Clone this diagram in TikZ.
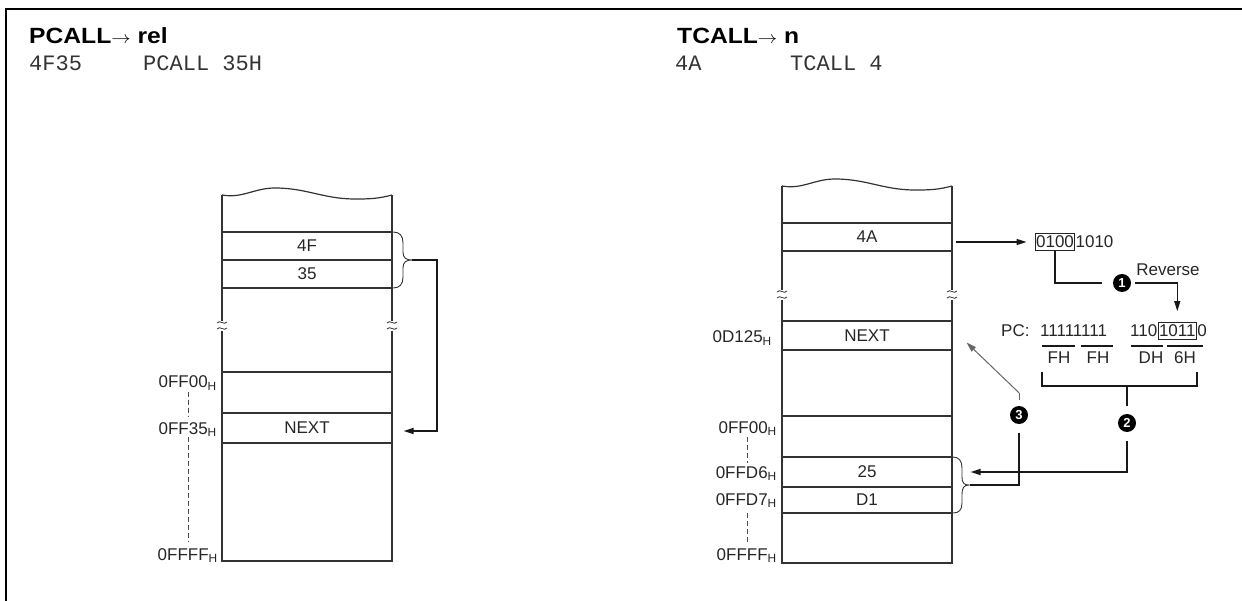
\documentclass[tikz,border=0pt]{standalone}
\usepackage{fontspec}
\setmainfont{Liberation Sans}
\newfontfamily\monof{Liberation Mono}
\usetikzlibrary{arrows.meta,calc}
\newcommand{\ttlarrow}{{\fontsize{18}{18}\selectfont$\rightarrow$}}
\begin{document}
\begin{tikzpicture}[x=1pt,y=-1pt,
  frame/.style={line width=2pt, draw=black},
  colline/.style={line width=1.2pt, draw=black!80},
  cell/.style={draw=black!80, line width=1.1pt, minimum width=170pt, inner sep=0pt, font=\fontsize{17}{20}\selectfont, text=black!85},
  lbl/.style={font=\fontsize{17}{20}\selectfont, inner sep=0pt, text=black!85},
  addr/.style={lbl, anchor=base east},
  boxed/.style={lbl, draw=black!85, line width=1pt, inner xsep=1pt, inner ysep=2.5pt},
  num/.style={circle, fill=black, text=white, inner sep=0pt, minimum size=18pt, font=\bfseries\fontsize{13}{13}\selectfont},
  conn/.style={line width=1.3pt, draw=black!90},
  arr/.style={conn, -{Triangle[length=10pt,width=6pt]}},
  diag/.style={line width=1pt, draw=black!60, -{Triangle[length=10pt,width=6pt]}},
  dashv/.style={line width=1pt, draw=black!70, dash pattern=on 5pt off 3pt},
  brk/.style={line width=0.8pt, draw=black!80},
  brace/.style={line width=0.9pt, draw=black!80},
  title/.style={font=\bfseries\fontsize{22}{26}\selectfont, anchor=base west, inner sep=0pt},
  code/.style={font=\monof\fontsize{22}{24}\selectfont, anchor=base west, inner sep=0pt, text=black!80},
]
\useasboundingbox (0,0) rectangle (1242,601);
\draw[frame] (1243,9.3) -- (6,9.3) -- (6,602);

% ---------- titles ----------
\node[title] (t1) at (29,44) {\scalebox{1.12}[1]{PCALL\ttlarrow{} rel}};
\node[code] (c1a) at (29,71) {4F35};
\node[code] (c1b) at (143,71) {PCALL 35H};
\node[title] (t2) at (677,44) {\scalebox{1.12}[1]{TCALL\ttlarrow{} n}};
\node[code] (c2a) at (675,71) {4A};
\node[code] (c2b) at (790,71) {TCALL 4};

% ---------- left memory column ----------
\draw[colline] (222,195) -- (222,321);
\draw[colline] (222,331) -- (222,561) -- (392,561) -- (392,331);
\draw[colline] (392,321) -- (392,195);
\draw[colline] (222,195) to[out=-10,in=180] (275,188) to[out=0,in=180] (355,199) to[out=0,in=195] (392,195);
\foreach \xx in {222,392}{
  \draw[brk] (\xx-5,323) .. controls (\xx-2,319) and (\xx+2,326) .. (\xx+5,322);
  \draw[brk] (\xx-5,329) .. controls (\xx-2,325) and (\xx+2,332) .. (\xx+5,328);
}
\node[cell, minimum height=28pt] (l4F) at (307,246) {4F};
\node[cell, minimum height=28pt] (l35) at (307,274) {35};
\node[cell, minimum height=41pt] (lFF00) at (307,392.5) {};
\node[cell, minimum height=30pt] (lNEXT) at (307,428) {NEXT};

\node[addr] (aL1) at (217,388) {0FF00\textsubscript{H}};
\node[addr] (aL2) at (217,434) {0FF35\textsubscript{H}};
\node[addr] (aL3) at (218,560) {0FFFF\textsubscript{H}};
\draw[dashv] (188,392) -- (188,417);
\draw[dashv] (188,437) -- (188,542);

% left brace and connector
\draw[brace] (393,232) .. controls (400,232) and (403,236) .. (403,243) -- (403,252)
  .. controls (403,258) and (406,260) .. (412,260)
  .. controls (406,260) and (403,262) .. (403,268) -- (403,277)
  .. controls (403,284) and (400,288) .. (393,288);
\coordinate (braceL) at (412,260);
\coordinate (lNEXTin) at ($(lNEXT.east)+(11,3)$);
\draw[arr] (braceL) -- ++(25,0) |- (lNEXTin);

% ---------- right memory column ----------
\draw[colline] (782,186) -- (782,290);
\draw[colline] (782,300) -- (782,563) -- (952,563) -- (952,300);
\draw[colline] (952,290) -- (952,186);
\draw[colline] (782,186) to[out=-10,in=180] (835,179) to[out=0,in=180] (915,190) to[out=0,in=195] (952,186);
\foreach \xx in {782,952}{
  \draw[brk] (\xx-5,292) .. controls (\xx-2,288) and (\xx+2,295) .. (\xx+5,291);
  \draw[brk] (\xx-5,298) .. controls (\xx-2,294) and (\xx+2,301) .. (\xx+5,297);
}
\node[cell, minimum height=28pt] (r4A) at (867,237) {4A};
\node[cell, minimum height=29pt] (rNEXT) at (867,335.5) {NEXT};
\node[cell, minimum height=41pt] (rFF00) at (867,436.5) {};
\node[cell, minimum height=30pt] (r25) at (867,472) {25};
\node[cell, minimum height=26pt] (rD1) at (867,500) {D1};

\node[addr] (aR0) at (772,343) {0D125\textsubscript{H}};
\node[addr] (aR1) at (777,433) {0FF00\textsubscript{H}};
\node[addr] (aR2) at (777,478) {0FFD6\textsubscript{H}};
\node[addr] (aR3) at (777,505) {0FFD7\textsubscript{H}};
\node[addr] (aR4) at (777,560) {0FFFF\textsubscript{H}};
\draw[dashv] (747,437) -- (747,463);
\draw[dashv] (747,513) -- (747,543);

% right brace
\draw[brace] (953,457) .. controls (959,457) and (962,461) .. (962,468) -- (962,477)
  .. controls (962,483) and (964,485) .. (969,485)
  .. controls (964,485) and (962,488) .. (962,494) -- (962,503)
  .. controls (962,510) and (959,513) .. (953,513);
\coordinate (braceR) at (970,485);
\coordinate (r25in) at ($(r25.east)+(18,0)$);

% binary of opcode
\node[boxed] (b0100) at (1055,242) {0100};
\node[lbl, anchor=west] (b1010) at (b0100.east) {1010};
\draw[arr] ($(b0100.west -| r4A.east)+(3,0)$) -- ($(b0100.west)+(-8,0)$);

\node[num] (n1) at (1122,283) {1};
\node[lbl] (rev) at (1168,270) {Reverse};
\draw[conn, shorten >=11pt] (b0100.south) |- (n1.west);

% PC value
\node[lbl, anchor=base west] (pc) at (1001,337) {PC:};
\node[lbl, anchor=base west] (hi) at (1040,337) {11111111};
\node[lbl, anchor=base west] (lo1) at (1130,337) {110};
\node[boxed, anchor=base west] (b1011) at (lo1.base east) {1011};
\node[lbl, anchor=base west] (lo2) at (b1011.base east) {0};
\draw[arr, shorten <=4pt, shorten >=11pt] (n1.east) -| (b1011.north);

\draw[conn] (1042,346) -- (1075,346);
\draw[conn] (1081,346) -- (1113,346);
\draw[conn] (1131,346) -- (1163,346);
\draw[conn] (1167,346) -- (1203,346);
\node[lbl, anchor=base] (fh1) at (1059,363) {FH};
\node[lbl, anchor=base] (fh2) at (1098,363) {FH};
\node[lbl, anchor=base] (dh) at (1151,363) {DH};
\node[lbl, anchor=base] (h6) at (1185,363) {6H};

\draw[conn] (1042,372) -- (1042,386) -- (1197,386) -- (1197,372);
\coordinate (bkt) at (1127,386);
\node[num] (n2) at (1127,423) {2};
\draw[conn, shorten >=7.5pt] (bkt) -- (n2.north);
\draw[arr, shorten <=9pt] (n2.south) |- (r25in);

% step 3
\node[num] (n3) at (1019,415) {3};
\coordinate (n3top) at ($(n3.north)+(0,-6)$);
\coordinate (rNEXTpt) at ($(rNEXT.east)+(14,7)$);
\draw[line width=1pt, draw=black!60] (n3top) -- ++(0,-7) coordinate (n3k);
\draw[diag] (n3k) -- (rNEXTpt);
\draw[conn, shorten <=9pt] (n3.south) |- (braceR);
\end{tikzpicture}
\end{document}
